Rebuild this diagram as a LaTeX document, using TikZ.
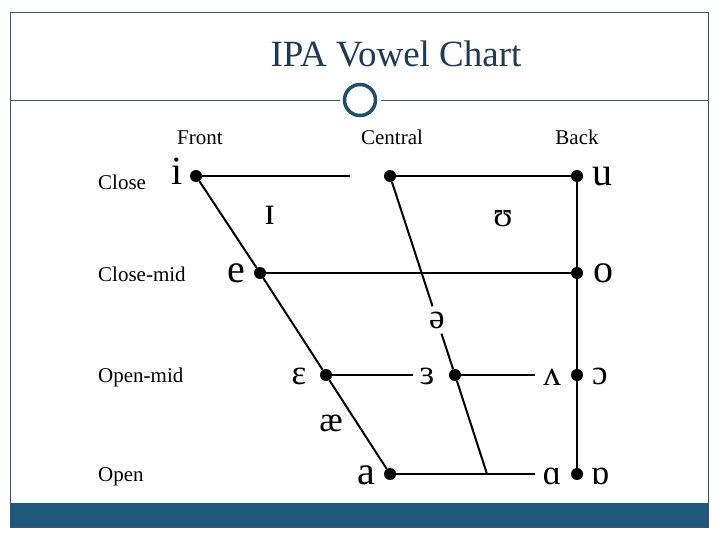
\documentclass[tikz,border=0pt]{standalone}
\usepackage{fontspec}
\setmainfont{Liberation Serif}
\newfontfamily\ipafont{Liberation Serif}
\usepackage{xcolor}
\usetikzlibrary{positioning}
\definecolor{slidetitle}{RGB}{31,58,82}
\definecolor{slideframe}{RGB}{62,84,102}
\definecolor{slidebar}{RGB}{31,90,124}
\definecolor{slidering}{RGB}{31,78,110}

\begin{document}
\begin{tikzpicture}[x=1pt, y=-1pt]
  \tikzset{
    vdot/.style={circle, fill=black, inner sep=0pt, minimum size=12pt},
    vline/.style={line width=2pt, black},
    sym/.style={font=\ipafont\fontsize{40}{44}\selectfont, inner sep=0pt, anchor=base},
    symsmall/.style={sym, font=\ipafont\fontsize{35}{40}\selectfont},
    axis/.style={font=\fontsize{21}{25}\selectfont, inner sep=0pt, anchor=base}
  }
  \useasboundingbox (0,0) rectangle (720,540);

  % Slide frame, title and bar
  \draw[slideframe, line width=0.8pt] (10,12) rectangle (708,527);
  \fill[slidebar] (10,503) rectangle (708,527);
  \node[text=slidetitle, font=\fontsize{37}{42}\selectfont, anchor=base] (title) at (396,67) {IPA Vowel Chart};
  \node[circle, draw=slidering, line width=3.5pt, minimum size=31pt, inner sep=0pt, outer sep=5pt] (ring) at (360,100) {};
  \coordinate (hl) at (10,100);
  \coordinate (hr) at (708,100);
  \draw[slideframe, line width=0.8pt] (hl) -- (ring) -- (hr);

  % Column and row headings
  \node[axis] (front)   at (200,145) {Front};
  \node[axis] (central) at (392,145) {Central};
  \node[axis] (back)    at (577,145) {Back};
  \node[axis, anchor=base west] (close)    at (98,190) {Close};
  \node[axis, anchor=base west] (closemid) at (98,281) {Close-mid};
  \node[axis, anchor=base west] (openmid)  at (98,382) {Open-mid};
  \node[axis, anchor=base west] (open)     at (98,481) {Open};

  % Dots
  \node[vdot] (dI)   at (196,176) {};
  \node[vdot] (dC)   at (390,176) {};
  \node[vdot] (dU)   at (577,176) {};
  \node[vdot] (dE)   at (260,273) {};
  \node[vdot] (dO)   at (577,273) {};
  \node[vdot] (dEps) at (326,375) {};
  \node[vdot] (dEr)  at (455,375) {};
  \node[vdot] (dV)   at (577,375) {};
  \node[vdot] (dA)   at (390,474) {};
  \node[vdot] (dAa)  at (577,474) {};
  \coordinate (cGap) at (350,176);
  \coordinate (cB)   at (487,474);

  % Vowel symbols
  \node[sym] (sI)   at (177,185) {i};
  \node[sym] (sU)   at (602,186) {u};
  \node[sym] (sE)   at (236,282) {e};
  \node[sym] (sO)   at (603,282) {o};
  \node[sym] (sA)   at (366,484) {a};
  \node[sym] (sIc)  at (270,225) {ɪ};
  \node[symsmall] (sUh)  at (503,226) {ʊ};
  \node[symsmall, anchor=center, inner sep=5pt] (sSchwa) at (437,320) {ə};
  \node[symsmall] (sEps) at (299,384) {ɛ};
  \node[symsmall] (sEr)  at (427,384) {ɜ};
  \node[symsmall] (sV)   at (552,385) {ʌ};
  \node[symsmall] (sOp)  at (600,384) {ɔ};
  \node[symsmall] (sAe)  at (331,431) {æ};
  \node[symsmall] (sAa)  at (552,484) {ɑ};
  \node[symsmall] (sOa)  at (600,484) {ɒ};

  % Chart lines
  \draw[vline] (dI) -- (cGap);
  \draw[vline] (dC) -- (dU);
  \draw[vline] (dE) -- (dO);
  \draw[vline] (dI) -- (dE) -- (dEps) -- (dA);
  \draw[vline] (dU) -- (dO) -- (dV) -- (dAa);
  \draw[vline] (dC) -- (sSchwa);
  \draw[vline] (sSchwa) -- (dEr) -- (cB);
  \draw[vline] (dEps) -- ([xshift=-6pt]dEps -| sEr.west);
  \draw[vline] (dEr) -- ([xshift=-8pt]dEr -| sV.west);
  \draw[vline] (dA) -- ([xshift=-8pt]dA -| sAa.west);
\end{tikzpicture}
\end{document}
